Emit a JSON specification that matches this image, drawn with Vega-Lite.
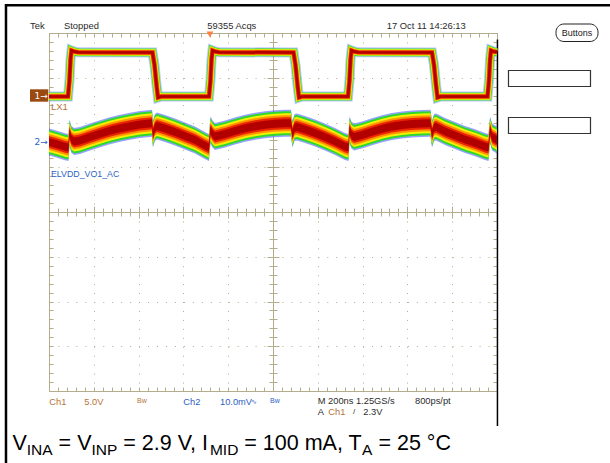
{
"$schema": "https://vega.github.io/schema/vega-lite/v6.json",
"width": 448,
"height": 358,
"autosize": {"type": "none"},
"padding": {"left": 49, "top": 33, "right": 113, "bottom": 72},
"background": "white",
"config": {
  "view": {"stroke": null},
  "axis": {"labels": false, "grid": false, "domainColor": "#b3ad8d", "tickColor": "#b3ad8d", "gridColor": "#b3ad8d", "domainWidth": 1, "tickWidth": 1, "gridWidth": 1},
  "text": {"font": "Liberation Sans"}
},
"datasets": {
  "ch1": [
    {"t": -1000, "v": 0}, {"t": -915.2, "v": 0}, {"t": -908.5, "v": 1.84}, {"t": -904, "v": 4.08}, {"t": -899.6, "v": 5.14}, {"t": -888.4, "v": 5.03}, {"t": -870.5, "v": 4.94},
    {"t": -537.9, "v": 4.92}, {"t": -529, "v": 3.52}, {"t": -520.1, "v": 1.28}, {"t": -513.4, "v": -0.11}, {"t": -500, "v": 0},
    {"t": -285.7, "v": 0}, {"t": -279, "v": 1.84}, {"t": -274.6, "v": 4.08}, {"t": -270.1, "v": 5.14}, {"t": -258.9, "v": 5.03}, {"t": -241.1, "v": 4.94},
    {"t": 91.5, "v": 4.92}, {"t": 100.4, "v": 3.52}, {"t": 109.4, "v": 1.28}, {"t": 116.1, "v": -0.11}, {"t": 129.5, "v": 0},
    {"t": 334.8, "v": 0}, {"t": 341.5, "v": 1.84}, {"t": 346, "v": 4.08}, {"t": 350.4, "v": 5.14}, {"t": 361.6, "v": 5.03}, {"t": 379.5, "v": 4.94},
    {"t": 709.8, "v": 4.92}, {"t": 718.8, "v": 3.52}, {"t": 727.7, "v": 1.28}, {"t": 734.4, "v": -0.11}, {"t": 747.8, "v": 0},
    {"t": 957.6, "v": 0}, {"t": 964.3, "v": 1.84}, {"t": 968.8, "v": 4.08}, {"t": 973.2, "v": 5.14}, {"t": 984.4, "v": 5.03}, {"t": 1000, "v": 4.97}
  ],
  "ch2": [
    {"t": -1000, "mv": 0.0}, {"t": -964, "mv": -0.51}, {"t": -929, "mv": -1.05}, {"t": -913, "mv": -1.23}, {"t": -908.5, "mv": 2.01}, {"t": -900, "mv": 0.56},
    {"t": -888, "mv": 0.11}, {"t": -862, "mv": 0.34}, {"t": -817, "mv": 1.12}, {"t": -772, "mv": 1.83}, {"t": -728, "mv": 2.51}, {"t": -683, "mv": 3.09},
    {"t": -638, "mv": 3.53}, {"t": -594, "mv": 3.89}, {"t": -549, "mv": 4.16}, {"t": -540, "mv": 4.2}, {"t": -536, "mv": 1.79}, {"t": -527, "mv": 3.24},
    {"t": -518, "mv": 3.58}, {"t": -482, "mv": 3.02}, {"t": -437.5, "mv": 2.24}, {"t": -393, "mv": 1.34}, {"t": -348, "mv": 0.45}, {"t": -304, "mv": -0.78},
    {"t": -286, "mv": -1.23}, {"t": -279, "mv": 2.68}, {"t": -270, "mv": 1.79}, {"t": -259, "mv": 1.23}, {"t": -214, "mv": 1.79}, {"t": -170, "mv": 2.46},
    {"t": -125, "mv": 3.06}, {"t": -80, "mv": 3.53}, {"t": -36, "mv": 3.85}, {"t": 9, "mv": 4.07}, {"t": 54, "mv": 4.18}, {"t": 80, "mv": 4.2},
    {"t": 87, "mv": 1.79}, {"t": 96, "mv": 3.24}, {"t": 107, "mv": 3.35}, {"t": 143, "mv": 2.8}, {"t": 187.5, "mv": 2.01}, {"t": 232, "mv": 1.12},
    {"t": 277, "mv": 0.11}, {"t": 321, "mv": -1.0}, {"t": 337, "mv": -1.23}, {"t": 341.5, "mv": 2.68}, {"t": 350, "mv": 1.57}, {"t": 362, "mv": 1.12},
    {"t": 397, "mv": 1.57}, {"t": 442, "mv": 2.28}, {"t": 487, "mv": 2.95}, {"t": 531, "mv": 3.44}, {"t": 576, "mv": 3.8}, {"t": 620.5, "mv": 4.02},
    {"t": 665, "mv": 4.16}, {"t": 703, "mv": 4.2}, {"t": 710, "mv": 1.79}, {"t": 719, "mv": 3.24}, {"t": 728, "mv": 3.35}, {"t": 768, "mv": 2.35},
    {"t": 812.5, "mv": 1.45}, {"t": 857, "mv": 0.56}, {"t": 902, "mv": -0.18}, {"t": 946, "mv": -1.0}, {"t": 962, "mv": -1.23}, {"t": 969, "mv": 2.68},
    {"t": 978, "mv": 1.12}, {"t": 1000, "mv": 0.45}
  ]
},
"resolve": {"scale": {"y": "independent"}, "axis": {"x": "independent", "y": "independent"}},
"layer": [
  {
    "data": {"values": [{"t": 0, "div": 0}]},
    "resolve": {"axis": {"x": "independent", "y": "independent"}},
    "layer": [
      {"mark": {"type": "point", "opacity": 0}, "encoding": {
        "x": {"field": "t", "type": "quantitative", "scale": {"domain": [-1000, 1000], "nice": false, "zero": false}, "axis": {"orient": "bottom", "title": null, "values": [-800,-600,-400,-200,200,400,600,800], "grid": true, "gridDash": [1, 7.95], "domain": false, "ticks": false}},
        "y": {"field": "div", "type": "quantitative", "scale": {"domain": [-4, 4], "nice": false, "zero": false}, "axis": {"orient": "left", "title": null, "values": [-3,-2,-1,1,2,3], "grid": true, "gridDash": [1, 7.96], "domain": false, "ticks": false}}}},
      {"mark": {"type": "point", "opacity": 0}, "encoding": {
        "x": {"field": "t", "type": "quantitative", "axis": {"orient": "bottom", "offset": -179, "title": null, "values": [-1000,-960,-920,-880,-840,-800,-760,-720,-680,-640,-600,-560,-520,-480,-440,-400,-360,-320,-280,-240,-200,-160,-120,-80,-40,0,40,80,120,160,200,240,280,320,360,400,440,480,520,560,600,640,680,720,760,800,840,880,920,960,1000], "domain": true, "ticks": true, "tickSize": 4}},
        "y": {"field": "div", "type": "quantitative", "axis": {"orient": "left", "offset": -224, "title": null, "values": [-4,-3.8,-3.6,-3.4,-3.2,-3,-2.8,-2.6,-2.4,-2.2,-2,-1.8,-1.6,-1.4,-1.2,-1,-0.8,-0.6,-0.4,-0.2,0,0.2,0.4,0.6,0.8,1,1.2,1.4,1.6,1.8,2,2.2,2.4,2.6,2.8,3,3.2,3.4,3.6,3.8,4], "domain": true, "ticks": true, "tickSize": 4}}}},
      {"mark": {"type": "point", "opacity": 0}, "encoding": {
        "x": {"field": "t", "type": "quantitative", "axis": {"orient": "top", "offset": -179, "title": null, "values": [-1000,-960,-920,-880,-840,-800,-760,-720,-680,-640,-600,-560,-520,-480,-440,-400,-360,-320,-280,-240,-200,-160,-120,-80,-40,0,40,80,120,160,200,240,280,320,360,400,440,480,520,560,600,640,680,720,760,800,840,880,920,960,1000], "domain": false, "ticks": true, "tickSize": 4}},
        "y": {"field": "div", "type": "quantitative", "axis": {"orient": "right", "offset": -224, "title": null, "values": [-4,-3.8,-3.6,-3.4,-3.2,-3,-2.8,-2.6,-2.4,-2.2,-2,-1.8,-1.6,-1.4,-1.2,-1,-0.8,-0.6,-0.4,-0.2,0,0.2,0.4,0.6,0.8,1,1.2,1.4,1.6,1.8,2,2.2,2.4,2.6,2.8,3,3.2,3.4,3.6,3.8,4], "domain": false, "ticks": true, "tickSize": 4}}}},
      {"mark": {"type": "point", "opacity": 0}, "encoding": {
        "x": {"field": "t", "type": "quantitative", "axis": {"orient": "bottom", "title": null, "values": [-1000,-960,-920,-880,-840,-800,-760,-720,-680,-640,-600,-560,-520,-480,-440,-400,-360,-320,-280,-240,-200,-160,-120,-80,-40,0,40,80,120,160,200,240,280,320,360,400,440,480,520,560,600,640,680,720,760,800,840,880,920,960,1000], "domain": true, "ticks": true, "tickSize": -4}},
        "y": {"field": "div", "type": "quantitative", "axis": {"orient": "left", "title": null, "values": [-4,-3.8,-3.6,-3.4,-3.2,-3,-2.8,-2.6,-2.4,-2.2,-2,-1.8,-1.6,-1.4,-1.2,-1,-0.8,-0.6,-0.4,-0.2,0,0.2,0.4,0.6,0.8,1,1.2,1.4,1.6,1.8,2,2.2,2.4,2.6,2.8,3,3.2,3.4,3.6,3.8,4], "domain": true, "ticks": true, "tickSize": -4}}}},
      {"mark": {"type": "point", "opacity": 0}, "encoding": {
        "x": {"field": "t", "type": "quantitative", "axis": {"orient": "top", "title": null, "values": [-1000,-960,-920,-880,-840,-800,-760,-720,-680,-640,-600,-560,-520,-480,-440,-400,-360,-320,-280,-240,-200,-160,-120,-80,-40,0,40,80,120,160,200,240,280,320,360,400,440,480,520,560,600,640,680,720,760,800,840,880,920,960,1000], "domain": true, "ticks": true, "tickSize": -4}},
        "y": {"field": "div", "type": "quantitative", "axis": {"orient": "right", "title": null, "values": [-4,-3.8,-3.6,-3.4,-3.2,-3,-2.8,-2.6,-2.4,-2.2,-2,-1.8,-1.6,-1.4,-1.2,-1,-0.8,-0.6,-0.4,-0.2,0,0.2,0.4,0.6,0.8,1,1.2,1.4,1.6,1.8,2,2.2,2.4,2.6,2.8,3,3.2,3.4,3.6,3.8,4], "domain": true, "ticks": true, "tickSize": -4}}}},
      {"mark": {"type": "point", "opacity": 0}, "encoding": {
        "x": {"field": "t", "type": "quantitative", "axis": {"orient": "bottom", "offset": -179, "title": null, "values": [-800,-600,-400,-200,200,400,600,800], "domain": false, "ticks": true, "tickSize": 6}},
        "y": {"field": "div", "type": "quantitative", "axis": {"orient": "left", "offset": -224, "title": null, "values": [-3,-2,-1,1,2,3], "domain": false, "ticks": true, "tickSize": 6}}}},
      {"mark": {"type": "point", "opacity": 0}, "encoding": {
        "x": {"field": "t", "type": "quantitative", "axis": {"orient": "top", "offset": -179, "title": null, "values": [-800,-600,-400,-200,200,400,600,800], "domain": false, "ticks": true, "tickSize": 6}},
        "y": {"field": "div", "type": "quantitative", "axis": {"orient": "right", "offset": -224, "title": null, "values": [-3,-2,-1,1,2,3], "domain": false, "ticks": true, "tickSize": 6}}}},

      {"mark": {"type": "text", "text": "Tek", "align": "left", "baseline": "middle", "fontSize": 9.4, "color": "#2b2b2b"}, "encoding": {"x": {"datum": -1084.8, "type": "quantitative", "axis": null}, "y": {"datum": 4.156, "type": "quantitative", "axis": null}}},
      {"mark": {"type": "text", "text": "Stopped", "align": "left", "baseline": "middle", "fontSize": 9.4, "color": "#2b2b2b"}, "encoding": {"x": {"datum": -933, "type": "quantitative", "axis": null}, "y": {"datum": 4.156, "type": "quantitative", "axis": null}}},
      {"mark": {"type": "text", "text": "59355 Acqs", "align": "left", "baseline": "middle", "fontSize": 9.4, "color": "#2b2b2b"}, "encoding": {"x": {"datum": -293.3, "type": "quantitative", "axis": null}, "y": {"datum": 4.156, "type": "quantitative", "axis": null}}},
      {"mark": {"type": "text", "text": "17 Oct 11 14:26:13", "align": "left", "baseline": "middle", "fontSize": 9.4, "color": "#2b2b2b"}, "encoding": {"x": {"datum": 507.6, "type": "quantitative", "axis": null}, "y": {"datum": 4.156, "type": "quantitative", "axis": null}}},
      {"mark": {"type": "point", "shape": "triangle-down", "filled": true, "size": 45, "color": "#ff7f40", "opacity": 1}, "encoding": {"x": {"datum": -281.3, "type": "quantitative", "axis": null}, "y": {"datum": 3.966, "type": "quantitative", "axis": null}}},
      {"mark": {"type": "rect", "fill": "white", "stroke": "#222222", "strokeWidth": 1, "cornerRadius": 8}, "encoding": {"x": {"datum": 1263.4, "type": "quantitative", "axis": null}, "x2": {"datum": 1450.9}, "y": {"datum": 4.201, "type": "quantitative", "axis": null}, "y2": {"datum": 3.81}}},
      {"mark": {"type": "text", "text": "Buttons", "align": "center", "baseline": "middle", "fontSize": 9, "color": "#222222"}, "encoding": {"x": {"datum": 1357.1, "type": "quantitative", "axis": null}, "y": {"datum": 4.0, "type": "quantitative", "axis": null}}},
      {"mark": {"type": "rect", "fill": "white", "stroke": "#333333", "strokeWidth": 1.2}, "encoding": {"x": {"datum": 1051.3, "type": "quantitative", "axis": null}, "x2": {"datum": 1417.4}, "y": {"datum": 3.162, "type": "quantitative", "axis": null}, "y2": {"datum": 2.804}}},
      {"mark": {"type": "rect", "fill": "white", "stroke": "#333333", "strokeWidth": 1.2}, "encoding": {"x": {"datum": 1051.3, "type": "quantitative", "axis": null}, "x2": {"datum": 1417.4}, "y": {"datum": 2.112, "type": "quantitative", "axis": null}, "y2": {"datum": 1.754}}},
      {"mark": {"type": "rect", "fill": "#9a4a10"}, "encoding": {"x": {"datum": -1084.8, "type": "quantitative", "axis": null}, "x2": {"datum": -1003.1}, "y": {"datum": 2.742, "type": "quantitative", "axis": null}, "y2": {"datum": 2.465}}},
      {"mark": {"type": "text", "text": "1→", "font": "DejaVu Sans", "align": "left", "baseline": "middle", "fontSize": 9, "color": "white"}, "encoding": {"x": {"datum": -1064.7, "type": "quantitative", "axis": null}, "y": {"datum": 2.603, "type": "quantitative", "axis": null}}},
      {"mark": {"type": "text", "text": "2→", "font": "DejaVu Sans", "align": "left", "baseline": "middle", "fontSize": 9, "color": "#2d62c4"}, "encoding": {"x": {"datum": -1064.7, "type": "quantitative", "axis": null}, "y": {"datum": 1.564, "type": "quantitative", "axis": null}}},
      {"mark": {"type": "text", "text": "LX1", "align": "left", "baseline": "middle", "fontSize": 9.5, "color": "#b5733a"}, "encoding": {"x": {"datum": -991.1, "type": "quantitative", "axis": null}, "y": {"datum": 2.346, "type": "quantitative", "axis": null}}},
      {"mark": {"type": "text", "text": "ELVDD_VO1_AC", "align": "left", "baseline": "middle", "fontSize": 8.8, "color": "#2d62c4"}, "encoding": {"x": {"datum": -991.1, "type": "quantitative", "axis": null}, "y": {"datum": 0.86, "type": "quantitative", "axis": null}}},

      {"mark": {"type": "text", "text": "Ch1", "align": "left", "baseline": "middle", "fontSize": 9.3, "color": "#b5733a"}, "encoding": {"x": {"datum": -998.7, "type": "quantitative", "axis": null}, "y": {"datum": -4.24, "type": "quantitative", "axis": null}}},
      {"mark": {"type": "text", "text": "5.0V", "align": "left", "baseline": "middle", "fontSize": 9.3, "color": "#b5733a"}, "encoding": {"x": {"datum": -842.4, "type": "quantitative", "axis": null}, "y": {"datum": -4.24, "type": "quantitative", "axis": null}}},
      {"mark": {"type": "text", "text": "Bw", "align": "left", "baseline": "middle", "fontSize": 7, "color": "#b5733a"}, "encoding": {"x": {"datum": -607.1, "type": "quantitative", "axis": null}, "y": {"datum": -4.22, "type": "quantitative", "axis": null}}},
      {"mark": {"type": "text", "text": "Ch2", "align": "left", "baseline": "middle", "fontSize": 9.3, "color": "#2d62c4"}, "encoding": {"x": {"datum": -400.4, "type": "quantitative", "axis": null}, "y": {"datum": -4.24, "type": "quantitative", "axis": null}}},
      {"mark": {"type": "text", "text": "10.0mV", "align": "left", "baseline": "middle", "fontSize": 9.3, "color": "#2d62c4"}, "encoding": {"x": {"datum": -236.6, "type": "quantitative", "axis": null}, "y": {"datum": -4.24, "type": "quantitative", "axis": null}}},
      {"mark": {"type": "text", "text": "∿", "font": "DejaVu Sans", "align": "left", "baseline": "middle", "fontSize": 7, "color": "#2d62c4"}, "encoding": {"x": {"datum": -98.2, "type": "quantitative", "axis": null}, "y": {"datum": -4.24, "type": "quantitative", "axis": null}}},
      {"mark": {"type": "text", "text": "Bw", "align": "left", "baseline": "middle", "fontSize": 7, "color": "#2d62c4"}, "encoding": {"x": {"datum": -13.4, "type": "quantitative", "axis": null}, "y": {"datum": -4.22, "type": "quantitative", "axis": null}}},
      {"mark": {"type": "text", "text": "M 200ns 1.25GS/s", "align": "left", "baseline": "middle", "fontSize": 9.3, "color": "#2b2b2b"}, "encoding": {"x": {"datum": 199.6, "type": "quantitative", "axis": null}, "y": {"datum": -4.22, "type": "quantitative", "axis": null}}},
      {"mark": {"type": "text", "text": "800ps/pt", "align": "left", "baseline": "middle", "fontSize": 9.3, "color": "#2b2b2b"}, "encoding": {"x": {"datum": 633.9, "type": "quantitative", "axis": null}, "y": {"datum": -4.22, "type": "quantitative", "axis": null}}},
      {"mark": {"type": "text", "text": "A", "align": "left", "baseline": "middle", "fontSize": 9.3, "color": "#2b2b2b"}, "encoding": {"x": {"datum": 199.6, "type": "quantitative", "axis": null}, "y": {"datum": -4.462, "type": "quantitative", "axis": null}}},
      {"mark": {"type": "text", "text": "Ch1", "align": "left", "baseline": "middle", "fontSize": 9.3, "color": "#b5733a"}, "encoding": {"x": {"datum": 246.9, "type": "quantitative", "axis": null}, "y": {"datum": -4.462, "type": "quantitative", "axis": null}}},
      {"mark": {"type": "text", "text": "/", "align": "left", "baseline": "middle", "fontSize": 8, "color": "#2b2b2b"}, "encoding": {"x": {"datum": 357.1, "type": "quantitative", "axis": null}, "y": {"datum": -4.462, "type": "quantitative", "axis": null}}},
      {"mark": {"type": "text", "text": "2.3V", "align": "left", "baseline": "middle", "fontSize": 9.3, "color": "#2b2b2b"}, "encoding": {"x": {"datum": 403.1, "type": "quantitative", "axis": null}, "y": {"datum": -4.462, "type": "quantitative", "axis": null}}},

      {"mark": {"type": "rule", "color": "black", "strokeWidth": 2.5}, "encoding": {"x": {"datum": -1192, "type": "quantitative", "axis": null}, "y": {"datum": 4.648, "type": "quantitative", "axis": null}, "y2": {"datum": -5.609}}},
      {"mark": {"type": "rule", "color": "black", "strokeWidth": 2.5}, "encoding": {"x": {"datum": -1196.4, "type": "quantitative", "axis": null}, "x2": {"datum": 1504.5}, "y": {"datum": 4.619, "type": "quantitative", "axis": null}}},
      {"mark": {"type": "rule", "color": "black", "strokeWidth": 1.5}, "encoding": {"x": {"datum": 1002, "type": "quantitative", "axis": null}, "y": {"datum": 3.855, "type": "quantitative", "axis": null}, "y2": {"datum": -4.782}}},

      {"mark": {"type": "text", "text": "V", "align": "left", "baseline": "alphabetic", "fontSize": 21.5, "color": "black"}, "encoding": {"x": {"datum": -1162.9, "type": "quantitative", "axis": null}, "y": {"datum": -5.318, "type": "quantitative", "axis": null}}},
      {"mark": {"type": "text", "text": "INA", "align": "left", "baseline": "alphabetic", "fontSize": 15.5, "color": "black"}, "encoding": {"x": {"datum": -1099.1, "type": "quantitative", "axis": null}, "y": {"datum": -5.43, "type": "quantitative", "axis": null}}},
      {"mark": {"type": "text", "text": "= V", "align": "left", "baseline": "alphabetic", "fontSize": 21.5, "color": "black"}, "encoding": {"x": {"datum": -957.1, "type": "quantitative", "axis": null}, "y": {"datum": -5.318, "type": "quantitative", "axis": null}}},
      {"mark": {"type": "text", "text": "INP", "align": "left", "baseline": "alphabetic", "fontSize": 15.5, "color": "black"}, "encoding": {"x": {"datum": -810.3, "type": "quantitative", "axis": null}, "y": {"datum": -5.43, "type": "quantitative", "axis": null}}},
      {"mark": {"type": "text", "text": "= 2.9 V, I", "align": "left", "baseline": "alphabetic", "fontSize": 21.5, "color": "black"}, "encoding": {"x": {"datum": -668.3, "type": "quantitative", "axis": null}, "y": {"datum": -5.318, "type": "quantitative", "axis": null}}},
      {"mark": {"type": "text", "text": "MID", "align": "left", "baseline": "alphabetic", "fontSize": 15.5, "color": "black"}, "encoding": {"x": {"datum": -281.5, "type": "quantitative", "axis": null}, "y": {"datum": -5.43, "type": "quantitative", "axis": null}}},
      {"mark": {"type": "text", "text": "= 100 mA, T", "align": "left", "baseline": "alphabetic", "fontSize": 21.5, "color": "black"}, "encoding": {"x": {"datum": -128.1, "type": "quantitative", "axis": null}, "y": {"datum": -5.318, "type": "quantitative", "axis": null}}},
      {"mark": {"type": "text", "text": "A", "align": "left", "baseline": "alphabetic", "fontSize": 15.5, "color": "black"}, "encoding": {"x": {"datum": 397.5, "type": "quantitative", "axis": null}, "y": {"datum": -5.43, "type": "quantitative", "axis": null}}},
      {"mark": {"type": "text", "text": "= 25 °C", "align": "left", "baseline": "alphabetic", "fontSize": 21.5, "color": "black"}, "encoding": {"x": {"datum": 470.5, "type": "quantitative", "axis": null}, "y": {"datum": -5.318, "type": "quantitative", "axis": null}}}
    ]
  },
  {
    "data": {"name": "ch1"},
    "encoding": {
      "x": {"field": "t", "type": "quantitative", "scale": {"domain": [-1000, 1000], "nice": false, "zero": false}, "axis": null},
      "y": {"field": "v", "type": "quantitative", "scale": {"domain": [-32.905, 7.095], "nice": false, "zero": false}, "axis": null}
    },
    "layer": [
      {"mark": {"type": "line", "color": "#2846ff", "strokeWidth": 10, "opacity": 0.3, "strokeJoin": "miter", "strokeCap": "butt"}, "encoding": {}},
      {"mark": {"type": "line", "color": "#3cdc3c", "strokeWidth": 8, "strokeJoin": "miter", "strokeCap": "butt"}, "encoding": {}},
      {"mark": {"type": "line", "color": "#f2ee00", "strokeWidth": 6.5, "strokeJoin": "miter", "strokeCap": "butt"}, "encoding": {}},
      {"mark": {"type": "line", "color": "#ff9000", "strokeWidth": 5, "strokeJoin": "miter", "strokeCap": "butt"}, "encoding": {}},
      {"mark": {"type": "line", "color": "#e81c00", "strokeWidth": 4, "strokeJoin": "miter", "strokeCap": "butt"}, "encoding": {}},
      {"mark": {"type": "line", "color": "#b00000", "strokeWidth": 2.5, "strokeJoin": "miter", "strokeCap": "butt"}, "encoding": {}}
    ]
  },
  {
    "data": {"name": "ch2"},
    "encoding": {
      "x": {"field": "t", "type": "quantitative", "scale": {"domain": [-1000, 1000], "nice": false, "zero": false}, "axis": null},
      "y": {"field": "mv", "type": "quantitative", "scale": {"domain": [-55.64, 24.36], "nice": false, "zero": false}, "axis": null},
      "y2": {"field": "mv"}
    },
    "layer": [
      {"mark": {"type": "area", "color": "#2846ff", "opacity": 0.5, "yOffset": -13.5, "y2Offset": 13.5}, "encoding": {}},
      {"mark": {"type": "area", "color": "#2ed82e", "opacity": 1, "yOffset": -12, "y2Offset": 12}, "encoding": {}},
      {"mark": {"type": "area", "color": "#f5ef00", "opacity": 1, "yOffset": -10, "y2Offset": 10}, "encoding": {}},
      {"mark": {"type": "area", "color": "#ff9400", "opacity": 1, "yOffset": -8, "y2Offset": 8}, "encoding": {}},
      {"mark": {"type": "area", "color": "#ec2400", "opacity": 1, "yOffset": -6, "y2Offset": 6}, "encoding": {}},
      {"mark": {"type": "area", "color": "#b20000", "opacity": 1, "yOffset": -4, "y2Offset": 4}, "encoding": {}}
    ]
  }
]
}
